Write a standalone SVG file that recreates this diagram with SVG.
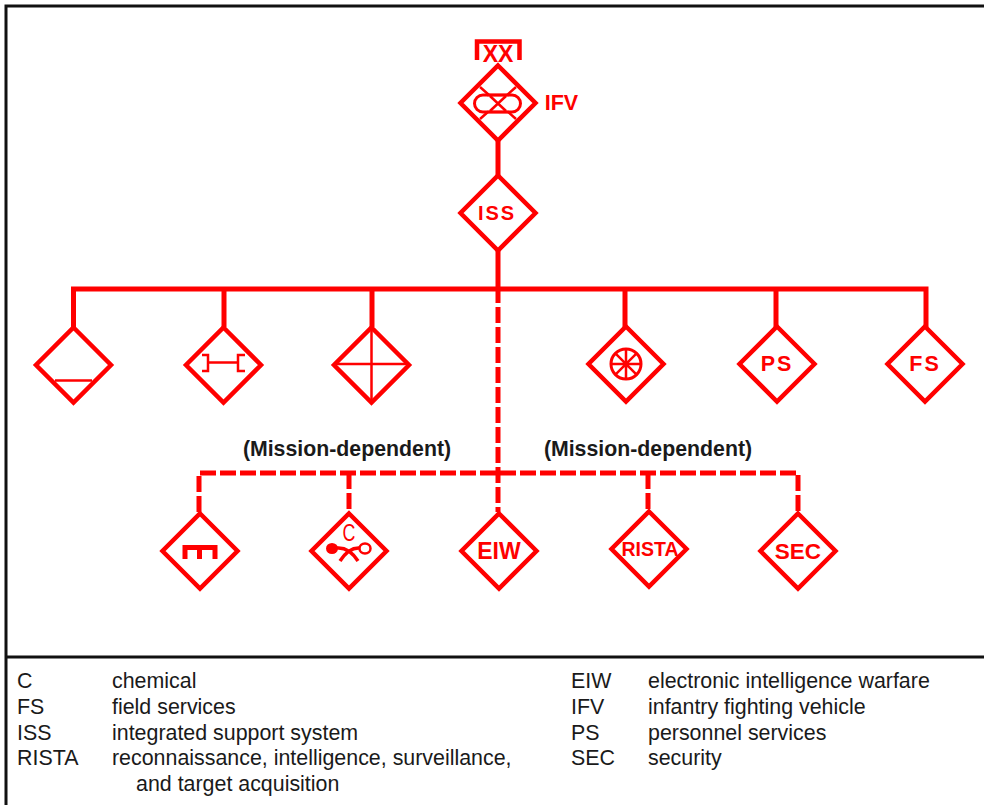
<svg xmlns="http://www.w3.org/2000/svg" width="984" height="805" viewBox="0 0 984 805">
<style>
.d{fill:#fff;stroke:#f00;stroke-width:4.5;stroke-linejoin:miter}
.s{fill:none;stroke:#f00;stroke-width:2.5}
.c{fill:none;stroke:#f00;stroke-width:5}
.dash{stroke-dasharray:16 4}
.l{fill:#f00;font-family:"Liberation Sans",Arial,sans-serif;font-weight:700;font-size:20px;text-anchor:middle}
.m{fill:#1a1a1a;font-family:"Liberation Sans",Arial,sans-serif;font-weight:700;font-size:21.3px;text-anchor:middle}
.k{fill:#1a1a1a;font-family:"Liberation Sans",Arial,sans-serif;font-size:21.4px}
</style>
<defs><path id="dm" class="d" d="M0-37.500L37.500 0L0 37.500L-37.500 0Z"/></defs>
<rect width="984" height="805" fill="#fff"/>
<path d="M6 805V6H984M6 657H984" fill="none" stroke="#111" stroke-width="3"/>
<g id="connectors">
<path class="c" d="M498 140V289M73.500 327V289H926V327M224 289V327M372 289V327M625 289V327M776 289V327"/>
<path class="c dash" d="M498 289V512" stroke-dashoffset="2"/>
<path class="c dash" d="M199 512V473H798V512"/>
<path class="c dash" d="M349 473V512M648 473V512"/>
</g>
<g id="node-ifv"><use href="#dm" x="498" y="103"/>
<path fill="none" stroke="#f00" stroke-width="4.500" d="M477 60V41.500H519.500V60"/>
<text class="l" x="498" y="62" style="font-size:23px">XX</text>
<path class="s" d="M480 87L516 119M516 87L480 119"/>
<rect x="474.500" y="95" width="46" height="17" rx="8.500" fill="#fff" stroke="#f00" stroke-width="3"/>
<path class="s" d="M487 95H509M487 112H509M490 96L506 111M506 96L490 111"/>
<text class="l" x="561.500" y="110" style="font-size:21.500px">IFV</text></g>
<g id="node-iss"><use href="#dm" x="498" y="213"/><text class="l" x="497" y="220" style="font-size:20px;letter-spacing:2px">ISS</text></g>
<g id="node-a"><use href="#dm" x="73.500" y="365"/><path class="s" d="M55 380.500H92"/></g>
<g id="node-b"><use href="#dm" x="223.500" y="365"/><path class="s" d="M202 355H208V371H202M208 362.500H238M245 355H238V371H245"/></g>
<g id="node-c"><use href="#dm" x="371.500" y="365"/><path class="s" d="M371.500 328V402M335 364H408"/></g>
<g id="node-d"><use href="#dm" x="626" y="364"/><circle cx="626" cy="364" r="15" fill="none" stroke="#f00" stroke-width="3"/><path stroke="#f00" stroke-width="2.500" d="M626 349V379M611 364H641M615.400 353.400L636.600 374.600M636.600 353.400L615.400 374.600"/></g>
<g id="node-ps"><use href="#dm" x="777" y="364"/><text class="l" x="777" y="371" style="font-size:21.500px;letter-spacing:2px">PS</text></g>
<g id="node-fs"><use href="#dm" x="925" y="364"/><text class="l" x="925" y="371" style="font-size:21.500px;letter-spacing:2px">FS</text></g>
<g id="node-e"><use href="#dm" x="200" y="551"/><path fill="none" stroke="#f00" stroke-width="5" d="M185 559V547.500H215V559M199.500 547.500V559"/></g>
<g id="node-f"><use href="#dm" x="349" y="551"/>
<text x="349" y="541" text-anchor="middle" fill="#f00" transform="translate(349 541) scale(.85 1.1) translate(-349 -541)" style="font-family:'Liberation Sans',sans-serif;font-size:21px">C</text>
<ellipse cx="332" cy="548.500" rx="6" ry="5.500" fill="#f00"/><ellipse cx="365" cy="548.500" rx="5.500" ry="5" fill="none" stroke="#f00" stroke-width="2.500"/>
<path fill="none" stroke="#f00" stroke-width="3.500" d="M337 548Q349 547 358 561M360 548Q349 547 340 561"/></g>
<g id="node-eiw"><use href="#dm" x="499" y="551"/><text class="l" x="499" y="559" style="font-size:23px">EIW</text></g>
<g id="node-rista"><use href="#dm" x="649" y="549"/><text class="l" x="650" y="555.500" style="font-size:19.500px">RISTA</text></g>
<g id="node-sec"><use href="#dm" x="798" y="551"/><text class="l" x="798" y="559" style="font-size:22.500px">SEC</text></g>
<g id="labels">
<text class="m" x="347" y="456">(Mission-dependent)</text>
<text class="m" x="648" y="456">(Mission-dependent)</text>
</g>
<g id="legend">
<text class="k" x="17" y="688">C</text><text class="k" x="112" y="688">chemical</text>
<text class="k" x="17" y="714">FS</text><text class="k" x="112" y="714">field services</text>
<text class="k" x="17" y="740">ISS</text><text class="k" x="112" y="740">integrated support system</text>
<text class="k" x="17" y="765">RISTA</text><text class="k" x="112" y="765">reconnaissance, intelligence, surveillance,</text>
<text class="k" x="136" y="791">and target acquisition</text>
<text class="k" x="571" y="688">EIW</text><text class="k" x="648" y="688">electronic intelligence warfare</text>
<text class="k" x="571" y="714">IFV</text><text class="k" x="648" y="714">infantry fighting vehicle</text>
<text class="k" x="571" y="740">PS</text><text class="k" x="648" y="740">personnel services</text>
<text class="k" x="571" y="765">SEC</text><text class="k" x="648" y="765">security</text>
</g>
</svg>
